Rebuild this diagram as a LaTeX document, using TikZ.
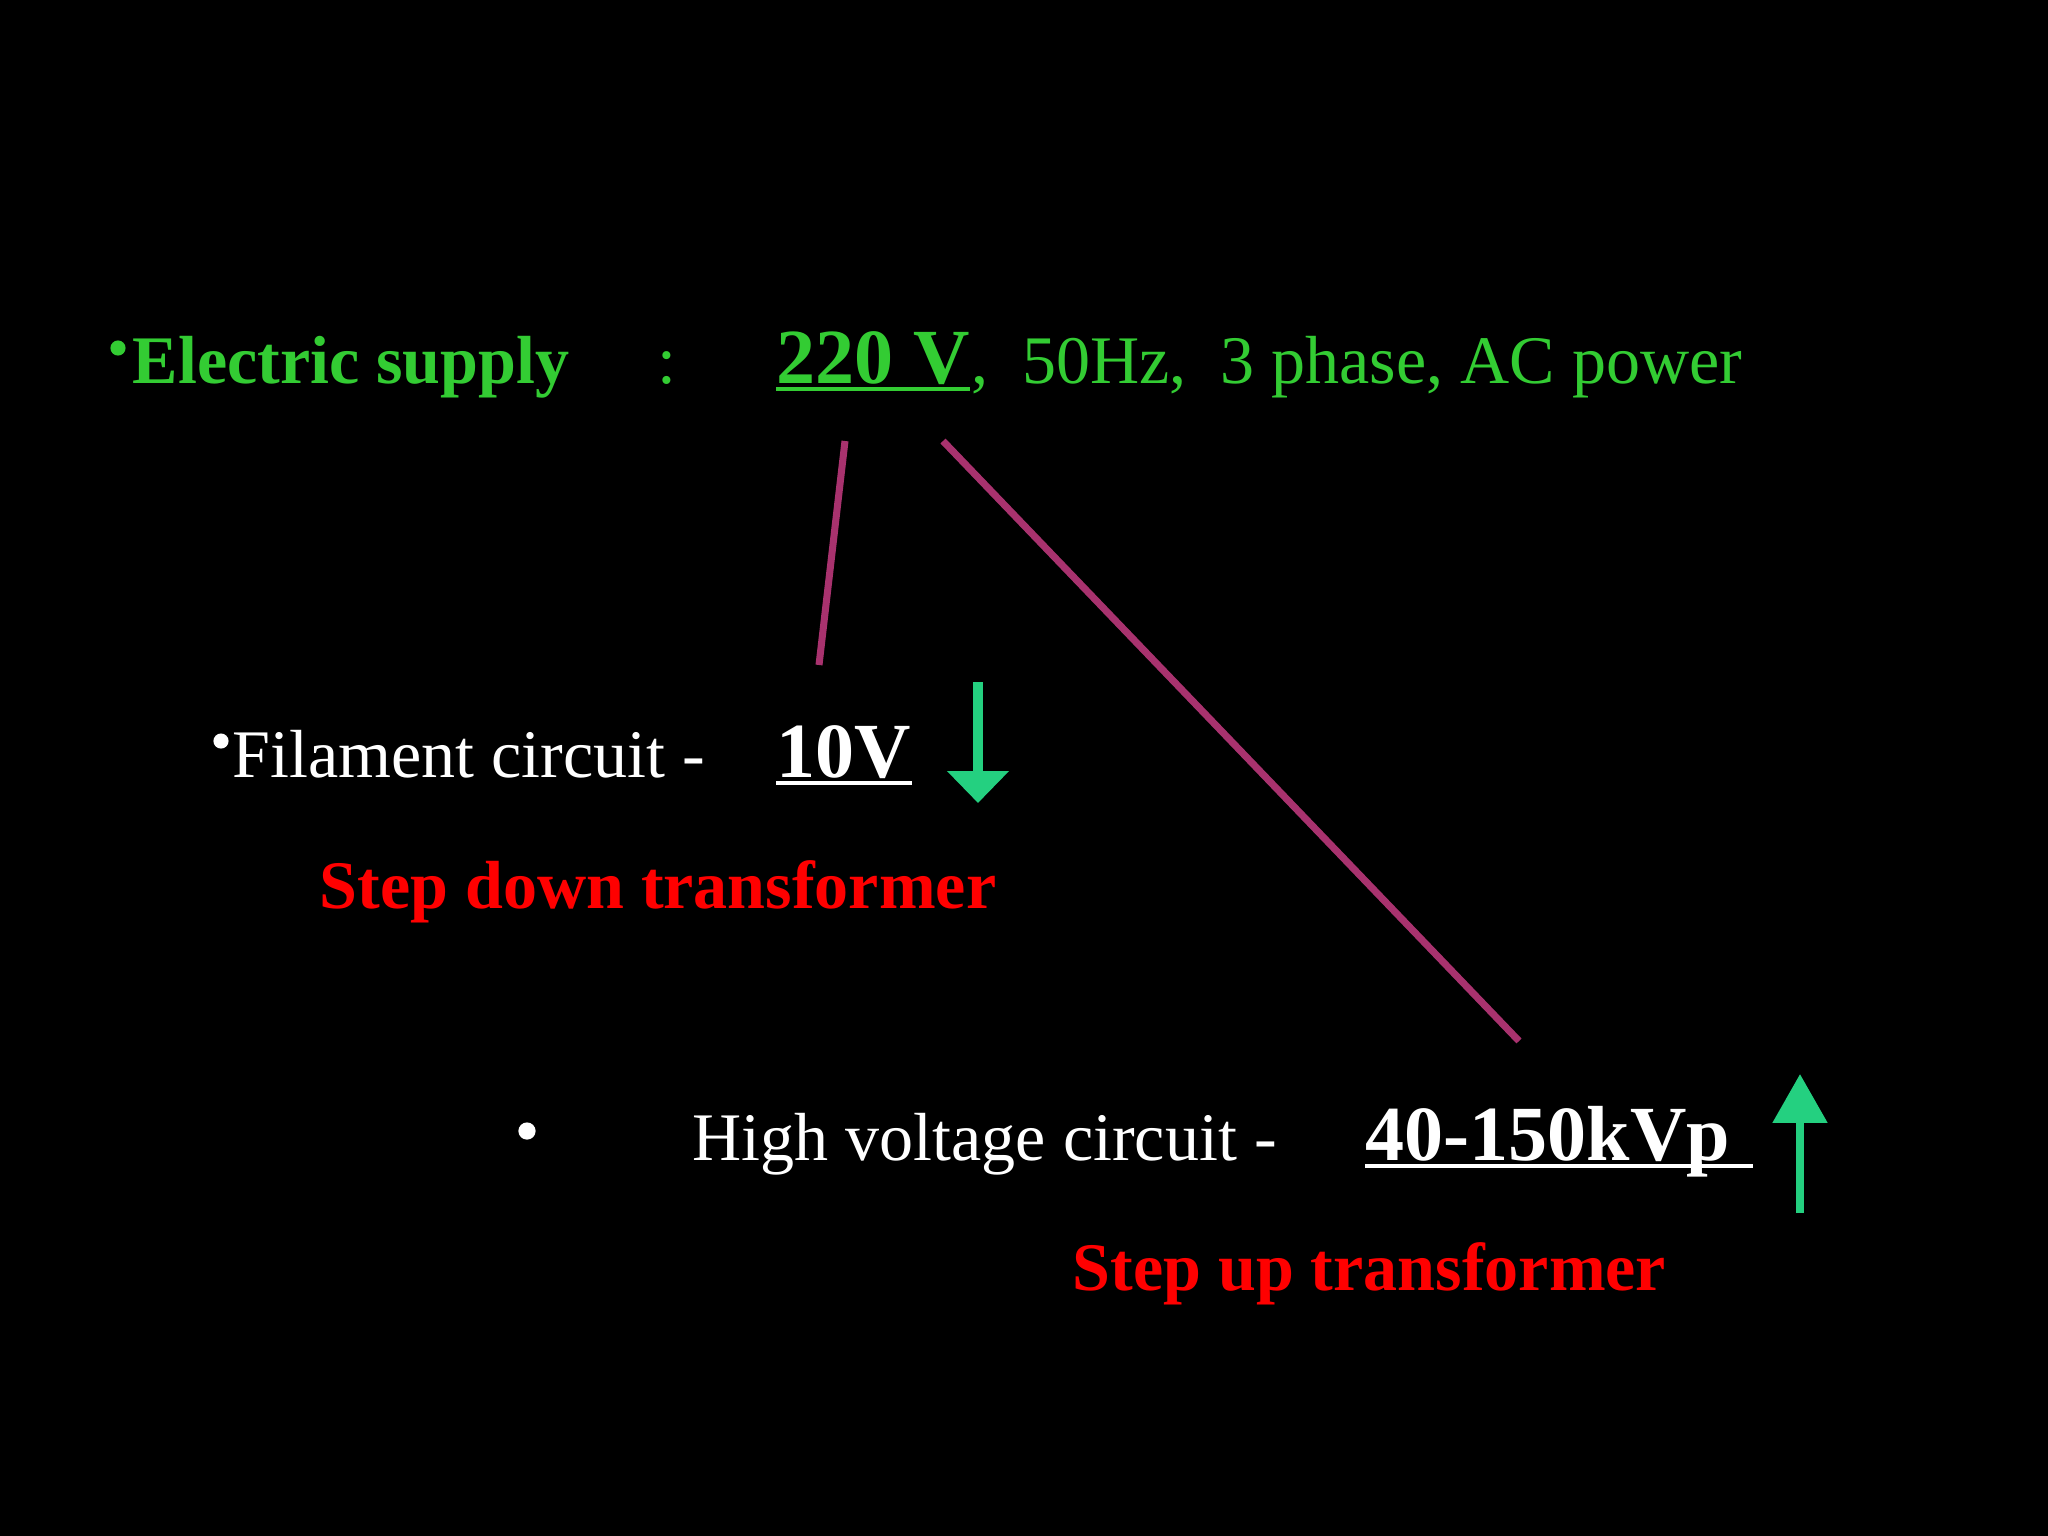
\documentclass[tikz,border=0pt]{standalone}
\usepackage{fontspec}
\setmainfont{Liberation Serif}
\usepackage{tikz}
\usetikzlibrary{calc,arrows.meta}

\definecolor{supplygreen}{RGB}{51,204,51}
\definecolor{arrowgreen}{RGB}{36,208,128}
\definecolor{linkpink}{RGB}{168,50,110}

\begin{document}
\begin{tikzpicture}[x=0.01cm,y=-0.01cm,
    txt/.style={anchor=base west,inner sep=0pt,font=\fontsize{19.35}{23}\selectfont},
    val/.style={txt,font=\fontsize{22.2}{26}\selectfont\bfseries},
    dot/.style={circle,fill=#1,inner sep=0pt},
    uline/.style={draw=#1,line width=1.1pt},
    link/.style={draw=linkpink,line width=2pt},
    updown/.style={draw=arrowgreen,line width=#1}]
  \fill[black] (0,0) rectangle (2048,1536);
  \useasboundingbox (0,0) rectangle (2048,1536);

  % supply line
  \node[dot=supplygreen,minimum size=4.3pt] (b1) at (118,348) {};
  \node[txt,text=supplygreen,font=\fontsize{19.35}{23}\selectfont\bfseries] (elec) at (132,383) {Electric supply};
  \node[txt,text=supplygreen] (colon) at (657,383) {:};
  \node[val,text=supplygreen] (v220) at (776,383) {220 V};
  \node[txt,text=supplygreen] (rest) at (v220.base east) {,\ \ 50Hz,\ \ 3 phase, AC power};
  \draw[uline=supplygreen] ($(v220.base west)+(0,6)$) -- ($(v220.base east)+(0,6)$);

  % filament circuit
  \node[dot=white,minimum size=4.3pt] (b2) at (221,741) {};
  \node[txt,text=white] (fil) at (232,777) {Filament circuit -};
  \node[val,text=white] (v10) at (776,777) {10V};
  \draw[uline=white] ($(v10.base west)+(0,6)$) -- ($(v10.base east)+(0,6)$);
  \coordinate (dtop) at (978,682);
  \coordinate (dtip) at (978,803);
  \draw[updown=2.85pt,-{Triangle[length=9.1pt,width=17.1pt]}] (dtop) -- (dtip);
  \node[txt,text=red,font=\fontsize{19.35}{23}\selectfont\bfseries] (down) at (319,908) {Step down transformer};

  % high voltage circuit
  \node[dot=white,minimum size=4.9pt] (b3) at (527,1131) {};
  \node[txt,text=white] (hv) at (692,1160) {High voltage circuit -};
  \node[val,text=white] (v40) at (1365,1160) {40-150kVp};
  \draw[uline=white] ($(v40.base west)+(0,6)$) -- ($(v40.base east)+(22,6)$);
  \coordinate (ubot) at (1800,1213);
  \coordinate (utip) at (1800,1074);
  \draw[updown=2.3pt,-{Triangle[length=13.9pt,width=15.1pt]}] (ubot) -- (utip);
  \node[txt,text=red,font=\fontsize{19.35}{23}\selectfont\bfseries] (up) at (1072,1290) {Step up transformer};

  % links from the supply
  \coordinate (l1a) at (845,441);
  \coordinate (l1b) at (819,665);
  \coordinate (l2a) at (943,441);
  \coordinate (l2b) at (1519,1041);
  \draw[link] (l1a) -- (l1b);
  \draw[link] (l2a) -- (l2b);
\end{tikzpicture}
\end{document}
